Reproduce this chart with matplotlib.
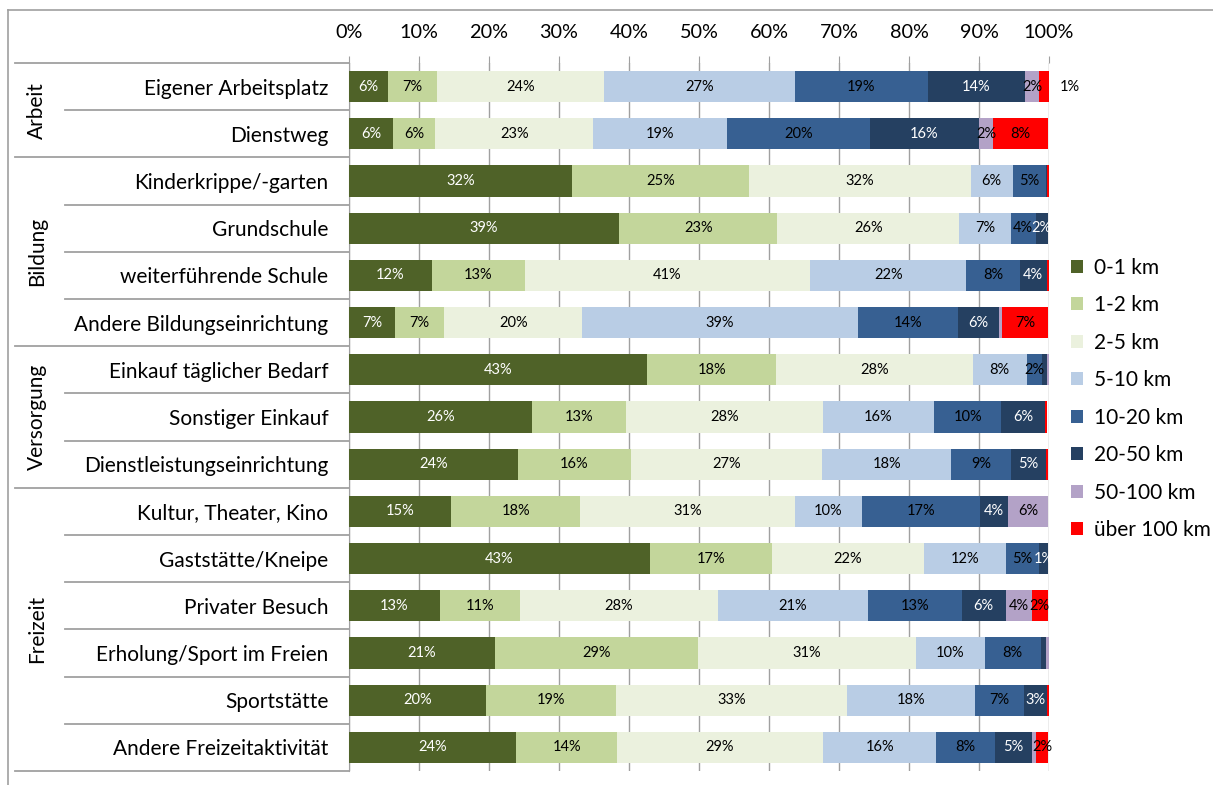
#!/usr/bin/env python3
"""Stacked 100% bar chart: trip distances by purpose (Wegezweck)."""

from __future__ import annotations

import matplotlib

matplotlib.use("Agg")
import matplotlib.pyplot as plt
from matplotlib.lines import Line2D
import numpy as np

plt.rcParams["font.family"] = ["Lato", "DejaVu Sans"]

CATEGORIES = [
    "Eigener Arbeitsplatz",
    "Dienstweg",
    "Kinderkrippe/-garten",
    "Grundschule",
    "weiterführende Schule",
    "Andere Bildungseinrichtung",
    "Einkauf täglicher Bedarf",
    "Sonstiger Einkauf",
    "Dienstleistungseinrichtung",
    "Kultur, Theater, Kino",
    "Gaststätte/Kneipe",
    "Privater Besuch",
    "Erholung/Sport im Freien",
    "Sportstätte",
    "Andere Freizeitaktivität",
]

GROUPS = ["Arbeit", "Bildung", "Versorgung", "Freizeit"]
GROUP_SIZES = [2, 4, 3, 6]

SERIES = ["0-1 km", "1-2 km", "2-5 km", "5-10 km", "10-20 km", "20-50 km", "50-100 km", "über 100 km"]

# percent shares per distance class, one value per category (top to bottom)
km_0_1 = [5.6, 6.3, 31.9, 38.6, 11.8, 6.6, 42.6, 26.2, 24.1, 14.6, 43.0, 13.0, 20.8, 19.6, 23.9]
km_1_2 = [6.9, 6.0, 25.2, 22.6, 13.3, 7.0, 18.4, 13.4, 16.2, 18.4, 17.4, 11.4, 29.1, 18.6, 14.4]
km_2_5 = [23.9, 22.6, 31.7, 26.0, 40.8, 19.7, 28.1, 28.1, 27.3, 30.7, 21.8, 28.3, 31.1, 33.0, 29.4]
km_5_10 = [27.3, 19.1, 6.0, 7.3, 22.3, 39.4, 7.7, 15.9, 18.4, 9.6, 11.7, 21.4, 9.8, 18.2, 16.2]
km_10_20 = [19.0, 20.4, 4.7, 3.6, 7.6, 14.3, 2.2, 9.6, 8.6, 16.9, 4.6, 13.4, 8.0, 7.0, 8.4]
km_20_50 = [13.9, 15.6, 0.2, 1.7, 3.9, 5.8, 0.7, 6.2, 5.0, 3.9, 1.4, 6.3, 0.7, 3.3, 5.2]
km_50_100 = [2.0, 2.0, 0.0, 0.0, 0.0, 0.5, 0.3, 0.0, 0.0, 5.8, 0.0, 3.7, 0.5, 0.0, 0.7]
km_over_100 = [1.4, 7.8, 0.3, 0.0, 0.3, 6.6, 0.0, 0.3, 0.3, 0.0, 0.0, 2.3, 0.0, 0.3, 1.6]

COLORS = ["#4f6228", "#c3d69b", "#ebf1de", "#b9cde5", "#376092", "#254061", "#b3a2c7", "#ff0000"]
WHITE_TEXT = {0, 5}
# (row, series) labels that sit right of the bar instead of inside
OUTSIDE_LABELS = {(0, 7)}

W, H = 1213, 785
AX_LEFT, AX_RIGHT, AX_TOP, AX_BOTTOM = 349, 1049, 63, 771
LINE_GREY = "#a0a0a0"
FS = 15


def draw_chart() -> plt.Figure:
    data = np.array([km_0_1, km_1_2, km_2_5, km_5_10, km_10_20, km_20_50, km_50_100, km_over_100])
    n = len(CATEGORIES)
    y = np.arange(n)

    fig = plt.figure(figsize=(W / 100, H / 100), dpi=100)
    ax = fig.add_axes([
        AX_LEFT / W,
        1 - AX_BOTTOM / H,
        (AX_RIGHT - AX_LEFT) / W,
        (AX_BOTTOM - AX_TOP) / H,
    ])

    left = np.zeros(n)
    for k, (name, vals, col) in enumerate(zip(SERIES, data, COLORS)):
        ax.barh(y, vals, left=left, height=0.66, color=col, label=name, zorder=3)
        for i, v in enumerate(vals):
            if v < 1.0:
                continue
            txt_col = "white" if k in WHITE_TEXT else "black"
            if (i, k) in OUTSIDE_LABELS:
                ax.text(103, i, f"{round(v):.0f}%", ha="center", va="center",
                        fontsize=10.5, color="black", clip_on=False)
            else:
                ax.text(left[i] + v / 2, i, f"{round(v):.0f}%", ha="center", va="center",
                        fontsize=10.5, color=txt_col, zorder=4)
        left += vals

    ax.set_xlim(0, 100)
    ax.set_ylim(n - 0.5, -0.5)
    ax.xaxis.tick_top()
    ax.set_xticks(np.arange(0, 101, 10))
    ax.set_xticklabels([f"{t}%" for t in range(0, 101, 10)], fontsize=14.3)
    ax.tick_params(axis="x", length=5, color=LINE_GREY, pad=11)
    ax.set_yticks(y)
    ax.set_yticklabels(CATEGORIES, fontsize=FS)
    ax.tick_params(axis="y", length=0, pad=15)
    ax.grid(axis="x", color=LINE_GREY, lw=1, zorder=0)
    for s in ("top", "right", "bottom"):
        ax.spines[s].set_visible(False)
    ax.spines["left"].set_color(LINE_GREY)

    # category separators and group labels left of the axis
    trans = ax.get_yaxis_transform()
    px = AX_RIGHT - AX_LEFT
    bounds = np.cumsum([0] + GROUP_SIZES)
    for b in range(n + 1):
        x0 = (15 - AX_LEFT) / px if b in bounds else (65 - AX_LEFT) / px
        ax.add_line(Line2D([x0, 0], [b - 0.5, b - 0.5], transform=trans,
                           color=LINE_GREY, lw=1.3, clip_on=False))
    for g, lo, hi in zip(GROUPS, bounds[:-1], bounds[1:]):
        ax.text((37 - AX_LEFT) / px, (lo + hi - 1) / 2, g, transform=trans,
                rotation=90, ha="center", va="center", fontsize=FS)

    # outer frame of the chart area
    fig.add_artist(Line2D([8 / W, 1], [1 - 10 / H, 1 - 10 / H], color=LINE_GREY, lw=1.2))
    fig.add_artist(Line2D([8 / W, 8 / W], [1 - 10 / H, 0], color=LINE_GREY, lw=1.2))

    ax.legend(loc="center left", bbox_to_anchor=(1071 / W, 1 - 399 / H),
              bbox_transform=fig.transFigure, frameon=False, fontsize=FS,
              handlelength=0.58, handleheight=0.58, handletextpad=0.5,
              labelspacing=0.84, borderpad=0, borderaxespad=0)
    return fig


if __name__ == "__main__":
    fig = draw_chart()
    fig.savefig("out.png", dpi=100)
